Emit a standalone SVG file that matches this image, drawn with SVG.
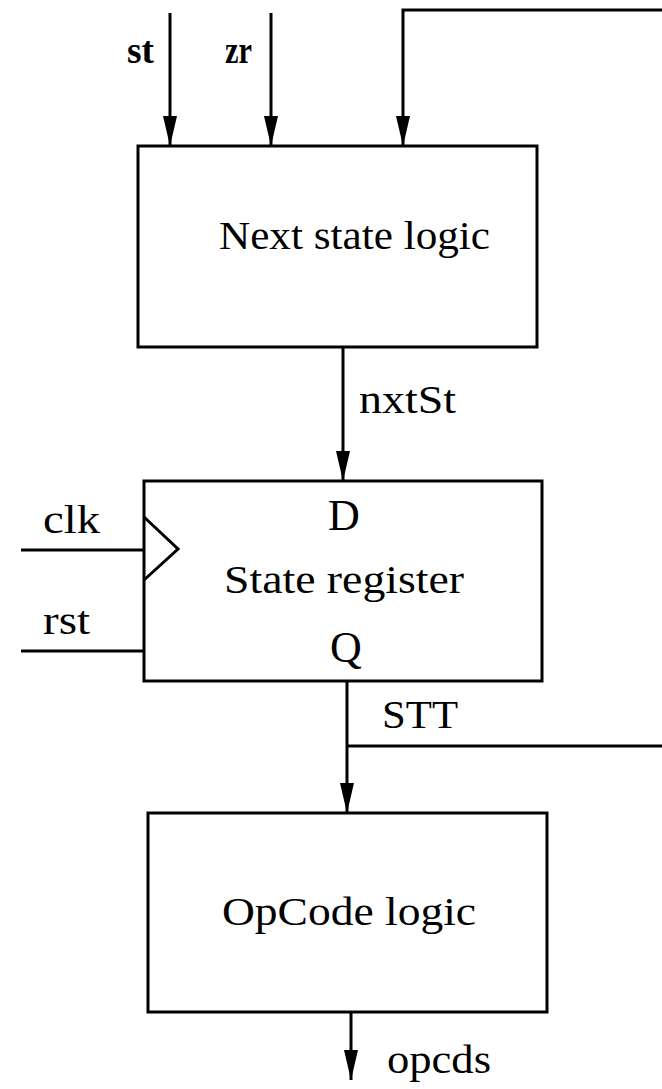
<svg xmlns="http://www.w3.org/2000/svg" width="662" height="1089" viewBox="0 0 662 1089">
  <style>
    .box { fill: #fff; stroke: #000; stroke-width: 3; }
    .wire { fill: none; stroke: #000; stroke-width: 3; }
    .lbl { font-family: "Liberation Serif", "Times New Roman", serif; font-size: 40px; fill: #000; }
    .pin { font-family: "Liberation Serif", "Times New Roman", serif; font-size: 44px; fill: #000; }
    .in { font-family: "Liberation Serif", "Times New Roman", serif; font-size: 37px; font-weight: bold; fill: #000; }
  </style>
  <defs>
    <marker id="arr" viewBox="0 0 30 14" refX="30" refY="7" markerWidth="30" markerHeight="14" markerUnits="userSpaceOnUse" orient="auto">
      <path d="M0,0 L30,7 L0,14 Z" fill="#000"/>
    </marker>
  </defs>
  <rect width="662" height="1089" fill="#fff"/>

  <g id="next-state-logic">
    <rect class="box" x="138" y="146" width="399" height="201"/>
    <text class="lbl" x="219" y="249" textLength="271" lengthAdjust="spacingAndGlyphs">Next state logic</text>
  </g>

  <g id="state-register">
    <rect class="box" x="144" y="481" width="398" height="200"/>
    <polyline class="wire" points="144,517 178,549 144,580"/>
    <text class="pin" x="344" y="530" text-anchor="middle">D</text>
    <text class="lbl" x="224" y="593" textLength="240" lengthAdjust="spacingAndGlyphs">State register</text>
    <text class="pin" x="346" y="662" text-anchor="middle">Q</text>
  </g>

  <g id="opcode-logic">
    <rect class="box" x="148" y="813" width="399" height="199"/>
    <text class="lbl" x="222" y="925" textLength="254" lengthAdjust="spacingAndGlyphs">OpCode logic</text>
  </g>

  <g id="connectors">
    <line class="wire" x1="170" y1="13" x2="170" y2="146" marker-end="url(#arr)"/>
    <line class="wire" x1="271" y1="13" x2="271" y2="146" marker-end="url(#arr)"/>
    <polyline class="wire" points="662,10 403,10 403,146" marker-end="url(#arr)"/>
    <line class="wire" x1="343" y1="347" x2="343" y2="481" marker-end="url(#arr)"/>
    <line class="wire" x1="347" y1="681" x2="347" y2="813" marker-end="url(#arr)"/>
    <line class="wire" x1="347" y1="746" x2="662" y2="746"/>
    <line class="wire" x1="351" y1="1012" x2="351" y2="1080" marker-end="url(#arr)"/>
    <line class="wire" x1="21" y1="550" x2="144" y2="550"/>
    <line class="wire" x1="21" y1="651" x2="144" y2="651"/>
  </g>

  <g id="labels">
    <text class="in" x="127" y="63" textLength="27" lengthAdjust="spacingAndGlyphs">st</text>
    <text class="in" x="225" y="63" textLength="27" lengthAdjust="spacingAndGlyphs">zr</text>
    <text class="lbl" x="359" y="413" textLength="97" lengthAdjust="spacingAndGlyphs">nxtSt</text>
    <text class="lbl" x="43" y="533" textLength="57" lengthAdjust="spacingAndGlyphs">clk</text>
    <text class="lbl" x="43" y="634" textLength="47" lengthAdjust="spacingAndGlyphs">rst</text>
    <text class="lbl" x="382" y="728" textLength="76" lengthAdjust="spacingAndGlyphs">STT</text>
    <text class="lbl" x="387" y="1073" textLength="104" lengthAdjust="spacingAndGlyphs">opcds</text>
  </g>
</svg>
